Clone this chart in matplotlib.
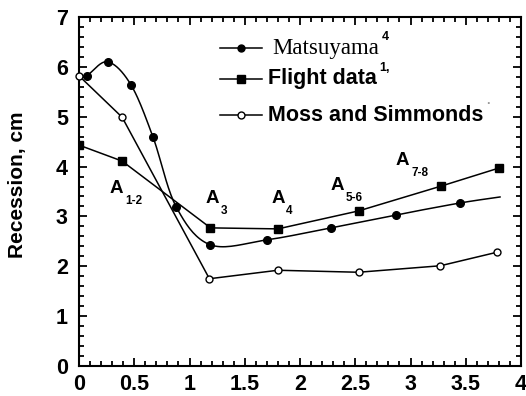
import numpy as np
import matplotlib
matplotlib.use("Agg")
import matplotlib.pyplot as plt
from matplotlib.lines import Line2D
from matplotlib.ticker import MultipleLocator

# ---- data ----
mats_x = [0.07, 0.26, 0.47, 0.67, 0.88, 1.19, 1.70, 2.28, 2.87, 3.45, 3.81]
mats_y = [5.82, 6.10, 5.64, 4.59, 3.19, 2.43, 2.53, 2.77, 3.03, 3.27, 3.39]
mats_marked = 10  # first N points carry markers

flight_x = [0.0, 0.39, 1.19, 1.80, 2.53, 3.28, 3.80]
flight_y = [4.43, 4.11, 2.77, 2.75, 3.11, 3.61, 3.97]

moss_x = [0.0, 0.39, 1.18, 1.80, 2.53, 3.27, 3.78]
moss_y = [5.82, 4.99, 1.75, 1.92, 1.88, 2.01, 2.28]

region_labels = [("A", "1-2", 0.34, 3.55), ("A", "3", 1.21, 3.35), ("A", "4", 1.80, 3.35),
                 ("A", "5-6", 2.34, 3.63), ("A", "7-8", 2.93, 4.13)]

x_ticks = [0, 0.5, 1, 1.5, 2, 2.5, 3, 3.5, 4]
x_ticklabels = ["0", "0.5", "1", "1.5", "2", "2.5", "3", "3.5", "4"]
y_ticks = [0, 1, 2, 3, 4, 5, 6, 7]


def catmull_rom(x, y, n=20):
    x = np.asarray(x, float); y = np.asarray(y, float)
    P = np.column_stack([x, y])
    P = np.vstack([P[0] - (P[1] - P[0]), P, P[-1] + (P[-1] - P[-2])])
    out = []
    for i in range(1, len(P) - 2):
        p0, p1, p2, p3 = P[i - 1], P[i], P[i + 1], P[i + 2]
        t = np.linspace(0, 1, n, endpoint=False)[:, None]
        pts = 0.5 * ((2 * p1) + (-p0 + p2) * t + (2 * p0 - 5 * p1 + 4 * p2 - p3) * t ** 2
                     + (-p0 + 3 * p1 - 3 * p2 + p3) * t ** 3)
        out.append(pts)
    out.append(P[-2][None, :])
    out = np.vstack(out)
    return out[:, 0], out[:, 1]


plt.rcParams['font.family'] = ['Liberation Sans', 'DejaVu Sans']
plt.rcParams['font.weight'] = 'bold'

fig = plt.figure(figsize=(5.26, 3.96), dpi=100)
ax = fig.add_axes([0.1502, 0.0758, 0.8403, 0.8813])

lw = 1.1
sx, sy = catmull_rom(mats_x, mats_y)
ax.plot(sx, sy, color='black', lw=lw, zorder=2)
ax.plot(mats_x[:mats_marked], mats_y[:mats_marked], linestyle='none', marker='o',
        markersize=5.5, color='black', zorder=3)
ax.plot(flight_x, flight_y, color='black', lw=lw, marker='s', markersize=5.5, zorder=3)
ax.plot(moss_x, moss_y, color='black', lw=lw, marker='o', markersize=5,
        markerfacecolor='white', markeredgewidth=1.0, zorder=4, clip_on=False)

for big, sub, x, y in region_labels:
    ax.text(x, y, big, fontsize=13.5, fontweight='bold', ha='center', va='center')
    ax.annotate(sub, xy=(x, y), xytext=(6, -9), textcoords='offset points',
                fontsize=8.5, fontweight='bold', ha='left', va='center')

# manual legend in axes fraction
rows = [(0.911, 'o', 'black', 'Matsuyama', '4', 'Liberation Serif', 'normal', 16.5, 0.437),
        (0.823, 's', 'black', 'Flight data', '1,', 'Liberation Sans', 'bold', 15.5, 0.428),
        (0.719, 'o', 'white', 'Moss and Simmonds', '\u00b7', 'Liberation Sans', 'bold', 15.5, 0.428)]
for yf, mk, fc, label, sup, fam, wt, fs, xt in rows:
    ax.add_line(Line2D([0.319, 0.414], [yf, yf], transform=ax.transAxes, color='black',
                       lw=lw, zorder=5))
    ax.add_line(Line2D([0.367], [yf], transform=ax.transAxes, marker=mk, color='black',
                       markerfacecolor=fc, markersize=5 if mk == 'o' else 5.5,
                       markeredgewidth=1.0, zorder=6))
    t = ax.text(xt, yf, label, transform=ax.transAxes, fontsize=fs, family=fam,
                fontweight=wt, ha='left', va='center')
    fig.canvas.draw()
    bb = t.get_window_extent().transformed(ax.transAxes.inverted())
    ax.text(bb.x1 + 0.006, yf + 0.032, sup, transform=ax.transAxes, fontsize=9,
            fontweight='bold', ha='left', va='center',
            color='black' if sup != '\u00b7' else '0.6')

ax.set_xlim(0, 4)
ax.set_ylim(0, 7)
ax.set_xticks(x_ticks)
ax.set_xticklabels(x_ticklabels)
ax.set_yticks(y_ticks)
ax.xaxis.set_minor_locator(MultipleLocator(0.1))
ax.yaxis.set_minor_locator(MultipleLocator(0.2))
ax.tick_params(which='both', direction='in', top=True, right=True, width=1.3)
ax.tick_params(which='major', length=6, labelsize=15.5)
ax.tick_params(which='minor', length=3.5)
ax.tick_params(axis='x', pad=5.5)
ax.tick_params(axis='y', pad=8)
for lab in ax.get_xticklabels() + ax.get_yticklabels():
    lab.set_fontweight('bold')
for s in ax.spines.values():
    s.set_linewidth(1.5)

ax.set_ylabel('Recession, cm', fontsize=15, fontweight='bold')
ax.yaxis.set_label_coords(-0.118, 0.52)

fig.savefig('out.png', dpi=100)
